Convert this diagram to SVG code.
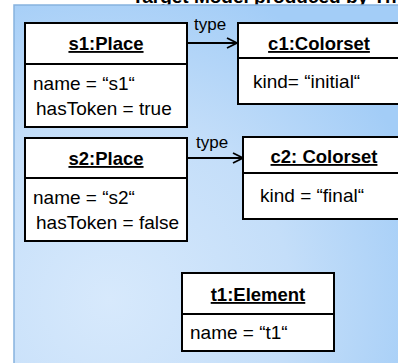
<svg xmlns="http://www.w3.org/2000/svg" width="398" height="363" viewBox="0 0 398 363">
  <defs>
    <radialGradient id="panelFill" cx="110" cy="300" r="330" gradientUnits="userSpaceOnUse">
      <stop offset="0" stop-color="#d7e9fc"/>
      <stop offset="0.55" stop-color="#c4def9"/>
      <stop offset="1" stop-color="#a3cdf7"/>
    </radialGradient>
    <marker id="openArrow" viewBox="0 0 12 12" refX="11" refY="6" markerWidth="12" markerHeight="12" markerUnits="userSpaceOnUse" orient="auto">
      <path d="M1,1 L11,6 L1,11" fill="none" stroke="#000" stroke-width="1.8"/>
    </marker>
  </defs>
  <style>
    .box { fill: #fff; stroke: #000; stroke-width: 2; }
    .sep { stroke: #000; stroke-width: 2; }
    .title { font-family: "Liberation Sans", Arial, sans-serif; font-size: 18.5px; font-weight: bold; text-decoration: underline; text-anchor: middle; fill: #000; }
    .attr { font-family: "Liberation Sans", Arial, sans-serif; font-size: 19px; fill: #000; }
    .lbl { font-family: "Liberation Sans", Arial, sans-serif; font-size: 17px; fill: #000; }
    .heading { font-family: "Liberation Sans", Arial, sans-serif; font-size: 19px; font-weight: bold; fill: #000; }
    .conn { fill: none; stroke: #000; stroke-width: 2; marker-end: url(#openArrow); }
  </style>

  <rect x="0" y="0" width="398" height="363" fill="#fff"/>
  <!-- heading, partly above the panel -->
  <text class="heading" x="132" y="3">Target Model produced by Th</text>

  <!-- background panel -->
  <rect x="14" y="5" width="400" height="370" fill="url(#panelFill)" stroke="#86b2de" stroke-width="1.5"/>

  <g id="connectors">
    <line class="conn" x1="187" y1="43" x2="237" y2="43"/>
    <text class="lbl" x="194" y="30">type</text>
    <line class="conn" x1="187" y1="158" x2="243" y2="158"/>
    <text class="lbl" x="196" y="148">type</text>
  </g>

  <g id="s1">
    <rect class="box" x="25" y="23" width="162" height="104"/>
    <line class="sep" x1="25" y1="64" x2="187" y2="64"/>
    <text class="title" x="106" y="50">s1:Place</text>
    <text class="attr" x="33" y="90">name = “s1“</text>
    <text class="attr" x="36" y="115">hasToken = true</text>
  </g>

  <g id="c1">
    <rect class="box" x="238" y="23" width="180" height="81"/>
    <line class="sep" x1="238" y1="58" x2="418" y2="58"/>
    <text class="title" x="319" y="50">c1:Colorset</text>
    <text class="attr" x="253" y="88">kind= “initial“</text>
  </g>

  <g id="s2">
    <rect class="box" x="25" y="138" width="162" height="103"/>
    <line class="sep" x1="25" y1="178" x2="187" y2="178"/>
    <text class="title" x="106" y="165">s2:Place</text>
    <text class="attr" x="33" y="204">name = “s2“</text>
    <text class="attr" x="36" y="229">hasToken = false</text>
  </g>

  <g id="c2">
    <rect class="box" x="243" y="137" width="180" height="82"/>
    <line class="sep" x1="243" y1="173" x2="423" y2="173"/>
    <text class="title" x="324" y="163">c2: Colorset</text>
    <text class="attr" x="260" y="202">kind = “final“</text>
  </g>

  <g id="t1">
    <rect class="box" x="182" y="273" width="152" height="78"/>
    <line class="sep" x1="182" y1="314" x2="334" y2="314"/>
    <text class="title" x="258" y="301">t1:Element</text>
    <text class="attr" x="190" y="339">name = “t1“</text>
  </g>
</svg>
